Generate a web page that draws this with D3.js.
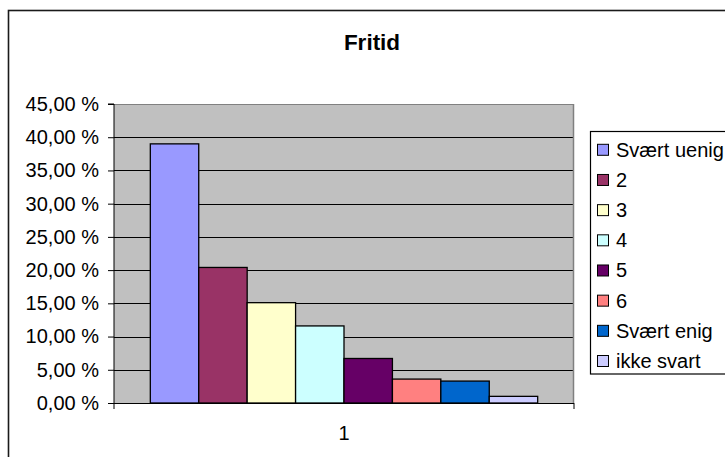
<!DOCTYPE html>
<html>
<head>
<meta charset="utf-8">
<script src="https://cdn.jsdelivr.net/npm/d3@7"></script>
<style>
  html, body { margin: 0; padding: 0; background: #fff; }
  svg { display: block; }
  text { font-family: "Liberation Sans", Arial, sans-serif; fill: #000; }
</style>
</head>
<body>
<svg id="chart" width="725" height="457"></svg>
<script>
const title = "Fritid";
const categories = ["1"];
const seriesNames = ["Svært uenig", "2", "3", "4", "5", "6", "Svært enig", "ikke svart"];
const seriesValues = [39.0, 20.4, 15.1, 11.6, 6.7, 3.6, 3.3, 1.0];
const seriesColors = ["#9999FF", "#993366", "#FFFFCC", "#CCFFFF", "#660066", "#FF8080", "#0066CC", "#CCCCFF"];
const yTicks = [0, 5, 10, 15, 20, 25, 30, 35, 40, 45];

const svg = d3.select("#chart");
const W = 725, H = 457;
const plot = { left: 114, right: 574, top: 104, bottom: 403 };

// outer frame
svg.append("rect").attr("x", 8.5).attr("y", 10.5).attr("width", W).attr("height", H)
  .attr("fill", "#fff").attr("stroke", "#1a1a1a").attr("stroke-width", 1.6);

// title
svg.append("text").attr("x", 372).attr("y", 49.5).attr("text-anchor", "middle")
  .style("font-size", "22.5px").style("font-weight", "bold").text(title);

const y = d3.scaleLinear().domain([0, 45]).range([plot.bottom, plot.top]);
const x0 = d3.scaleBand().domain(categories).range([plot.left, plot.right])
  .paddingInner(0).paddingOuter(0.75 / seriesNames.length);
const x1 = d3.scaleBand().domain(seriesNames).range([0, x0.bandwidth()]).padding(0);

// plot background
svg.append("rect").attr("x", plot.left).attr("y", plot.top)
  .attr("width", plot.right - plot.left).attr("height", plot.bottom - plot.top)
  .attr("fill", "#C0C0C0");

// gridlines
svg.append("g").selectAll("line").data(yTicks.filter(d => d > 0)).join("line")
  .attr("x1", plot.left).attr("x2", plot.right)
  .attr("y1", d => Math.round(y(d)) + 0.5).attr("y2", d => Math.round(y(d)) + 0.5)
  .attr("stroke", d => d === 45 ? "#808080" : "#000").attr("stroke-width", 1);

// plot right border
svg.append("line").attr("x1", plot.right - 0.5).attr("x2", plot.right - 0.5)
  .attr("y1", plot.top).attr("y2", plot.bottom).attr("stroke", "#808080").attr("stroke-width", 1.5);

// bars
const data = seriesNames.map((n, i) => ({ name: n, value: seriesValues[i], color: seriesColors[i] }));
svg.append("g").selectAll("g").data(categories).join("g")
  .attr("transform", d => `translate(${x0(d)},0)`)
  .selectAll("rect").data(data).join("rect")
  .attr("x", d => x1(d.name)).attr("width", x1.bandwidth())
  .attr("y", d => y(d.value)).attr("height", d => y(0) - y(d.value))
  .attr("fill", d => d.color).attr("stroke", "#000").attr("stroke-width", 1.3);

// y axis
const yAxis = d3.axisLeft(y).tickValues(yTicks).tickSize(6).tickPadding(9)
  .tickFormat(d => d3.format(".2f")(d).replace(".", ",") + " %");
const gy = svg.append("g").attr("transform", `translate(${plot.left},0)`).call(yAxis);
gy.select(".domain").attr("stroke", "#000").attr("d", `M-6,${plot.top}H0V${plot.bottom}`);
gy.selectAll(".tick line").attr("stroke", "#000");
gy.selectAll(".tick text").style("font-size", "20px")
  .attr("font-family", null).attr("fill", "#000");

// x axis
const xEdges = [plot.left, plot.right];
const gx = svg.append("g");
gx.append("line").attr("x1", plot.left).attr("x2", plot.right)
  .attr("y1", plot.bottom + 0.5).attr("y2", plot.bottom + 0.5).attr("stroke", "#000");
gx.selectAll(".edge").data(xEdges).join("line").attr("class", "edge")
  .attr("x1", d => d).attr("x2", d => d).attr("y1", plot.bottom).attr("y2", plot.bottom + 6)
  .attr("stroke", "#000");
gx.selectAll("text").data(categories).join("text")
  .attr("x", d => x0(d) + x0.bandwidth() / 2).attr("y", 440)
  .attr("text-anchor", "middle").style("font-size", "20px").text(d => d);

// legend
const leg = { x: 590.5, y: 131.5, w: 200, h: 242.5 };
svg.append("rect").attr("x", leg.x).attr("y", leg.y).attr("width", leg.w).attr("height", leg.h)
  .attr("fill", "#fff").attr("stroke", "#000").attr("stroke-width", 1.2);
const rowY = d3.scaleLinear().domain([0, seriesNames.length - 1]).range([149.8, 361]);
const items = svg.append("g").selectAll("g").data(data).join("g")
  .attr("transform", (d, i) => `translate(0,${rowY(i)})`);
items.append("rect").attr("x", 597.5).attr("y", -5.5).attr("width", 11).attr("height", 11)
  .attr("fill", d => d.color).attr("stroke", "#000").attr("stroke-width", 1);
items.append("text").attr("x", 616).attr("y", 7).style("font-size", "20px").text(d => d.name);
</script>
</body>
</html>
